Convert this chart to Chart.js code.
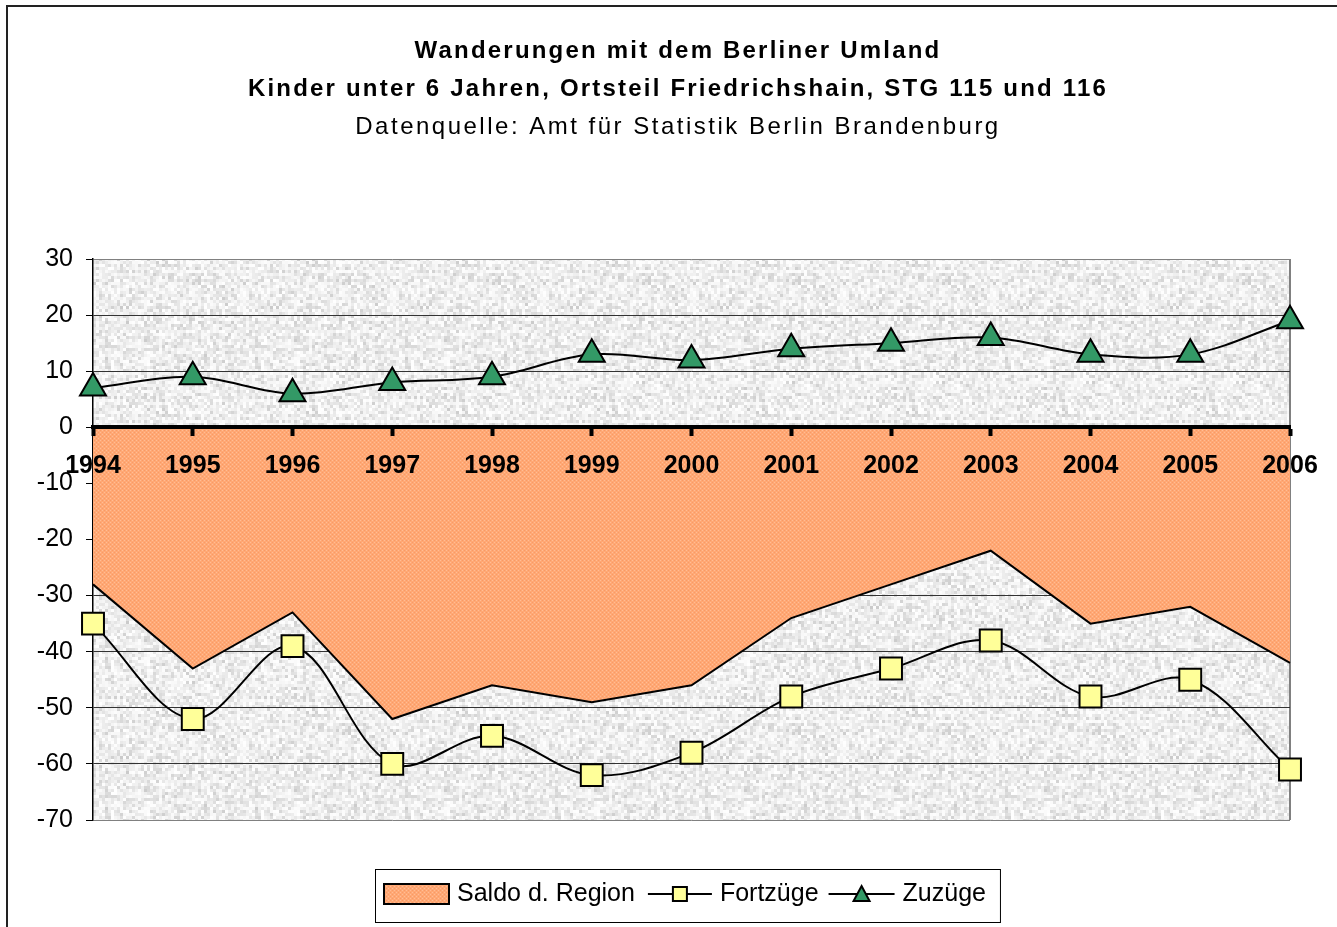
<!DOCTYPE html>
<html>
<head>
<meta charset="utf-8">
<title>Wanderungen mit dem Berliner Umland</title>
<script src="https://cdn.jsdelivr.net/npm/chart.js@4"></script>
<style>
  html, body { margin: 0; padding: 0; background: #fff; overflow: hidden; }
  #frame { position: absolute; left: 6px; top: 5px; width: 1400px; height: 1000px;
           border-left: 2px solid #222; border-top: 2px solid #222; }
  #wrap { position: absolute; left: 0; top: 0; width: 1337px; height: 927px; }
</style>
</head>
<body>
<div id="frame"></div>
<div id="wrap"><canvas id="chart" width="1337" height="927"></canvas></div>
<script>
// data
const years = ['1994', '1995', '1996', '1997', '1998', '1999', '2000', '2001', '2002', '2003', '2004', '2005', '2006'];
const saldo = [-28, -43, -33, -52, -46, -49, -46, -34, -28, -22, -35, -32, -42];
const fortzuege = [-35, -52, -39, -60, -55, -62, -58, -48, -43, -38, -48, -45, -61];
const zuzuege = [7, 9, 6, 8, 9, 13, 12, 14, 15, 16, 13, 13, 19];
const yMin = -70;
const yMax = 30;
const yStep = 10;

const titleLines = ['Wanderungen mit dem Berliner Umland', 'Kinder unter 6 Jahren, Ortsteil Friedrichshain, STG 115 und 116'];
const subtitleLine = 'Datenquelle: Amt für Statistik Berlin Brandenburg';

const FONT = '"Liberation Sans", Arial, sans-serif';

// grey speckled plot background (fixed seed, texture only)
function makeSpeckle() {
  const c = document.createElement('canvas');
  c.width = 150; c.height = 150;
  const g = c.getContext('2d');
  let s = 4711;
  const next = () => { s = (s * 16807) % 2147483647; return s / 2147483647; };
  for (let y = 0; y < 150; y += 3) {
    for (let x = 0; x < 150; x += 3) {
      const v = Math.round(200 + Math.sqrt(next()) * 55);
      g.fillStyle = `rgb(${v},${v},${v})`;
      g.fillRect(x, y, 3, 3);
    }
  }
  return g.createPattern(c, 'repeat');
}

// orange dotted area fill
function makeOrange() {
  const c = document.createElement('canvas');
  c.width = 4; c.height = 4;
  const g = c.getContext('2d');
  g.fillStyle = '#ffa874';
  g.fillRect(0, 0, 4, 4);
  g.fillStyle = '#ffbd96';
  g.fillRect(0, 0, 1, 1);
  g.fillRect(2, 2, 1, 1);
  g.fillStyle = '#f89a66';
  g.fillRect(2, 0, 1, 1);
  g.fillRect(0, 2, 1, 1);
  return g.createPattern(c, 'repeat');
}

const speckle = makeSpeckle();
const orange = makeOrange();

const plotBackground = {
  id: 'plotBackground',
  beforeDraw(chart) {
    const { ctx, chartArea: a } = chart;
    ctx.save();
    ctx.fillStyle = speckle;
    ctx.fillRect(a.left, a.top, a.right - a.left, a.bottom - a.top);
    ctx.strokeStyle = '#808080';
    ctx.lineWidth = 2;
    ctx.beginPath();
    ctx.moveTo(a.right, a.top);
    ctx.lineTo(a.right, a.bottom);
    ctx.stroke();
    ctx.restore();
  }
};

// Excel-like spaced title, three lines
const spacedTitle = {
  id: 'spacedTitle',
  afterDraw(chart) {
    const ctx = chart.ctx;
    const cx = 678;
    ctx.save();
    ctx.fillStyle = '#000';
    ctx.textAlign = 'center';
    ctx.textBaseline = 'middle';
    ctx.letterSpacing = '2.2px';
    ctx.font = 'bold 24px ' + FONT;
    ctx.fillText(titleLines[0], cx, 51);
    ctx.fillText(titleLines[1], cx, 89);
    ctx.letterSpacing = '2.5px';
    ctx.font = '24px ' + FONT;
    ctx.fillText(subtitleLine, cx, 127);
    ctx.restore();
  }
};

// legend in a framed box, Excel style
const boxLegend = {
  id: 'boxLegend',
  afterDraw(chart) {
    const { ctx, chartArea: a } = chart;
    const ds = chart.data.datasets;
    const cy = 894;
    ctx.save();
    ctx.font = '25px ' + FONT;
    ctx.textBaseline = 'middle';
    const w0 = ctx.measureText(ds[0].label).width;
    const w1 = ctx.measureText(ds[1].label).width;
    const w2 = ctx.measureText(ds[2].label).width;
    const total = 9 + 65 + 8 + w0 + 13 + 64 + 8 + w1 + 10 + 66 + 8 + w2 + 14;
    const left = Math.round((a.left + a.right) / 2 - total / 2) - 4;
    ctx.fillStyle = '#fff';
    ctx.strokeStyle = '#000';
    ctx.lineWidth = 1;
    ctx.fillRect(left, 869, total, 53);
    ctx.strokeRect(left + 0.5, 869.5, total, 53);

    let x = left + 9;
    ctx.fillStyle = orange;
    ctx.fillRect(x, cy - 10, 65, 20);
    ctx.lineWidth = 2;
    ctx.strokeRect(x, cy - 10, 65, 20);
    x += 65 + 8;
    ctx.fillStyle = '#000';
    ctx.fillText(ds[0].label, x, cy);
    x += w0 + 13;

    ctx.beginPath();
    ctx.moveTo(x, cy); ctx.lineTo(x + 64, cy);
    ctx.stroke();
    ctx.fillStyle = ds[1].pointBackgroundColor;
    ctx.fillRect(x + 25, cy - 7, 14, 14);
    ctx.strokeRect(x + 25, cy - 7, 14, 14);
    x += 64 + 8;
    ctx.fillStyle = '#000';
    ctx.fillText(ds[1].label, x, cy);
    x += w1 + 10;

    ctx.beginPath();
    ctx.moveTo(x, cy); ctx.lineTo(x + 66, cy);
    ctx.stroke();
    ctx.fillStyle = ds[2].pointBackgroundColor;
    ctx.beginPath();
    ctx.moveTo(x + 33, cy - 8);
    ctx.lineTo(x + 41, cy + 7);
    ctx.lineTo(x + 25, cy + 7);
    ctx.closePath();
    ctx.fill();
    ctx.stroke();
    x += 66 + 8;
    ctx.fillStyle = '#000';
    ctx.fillText(ds[2].label, x, cy);
    ctx.restore();
  }
};

new Chart(document.getElementById('chart'), {
  type: 'line',
  data: {
    labels: years,
    datasets: [
      {
        label: 'Saldo d. Region',
        data: saldo,
        order: 2,
        fill: 'origin',
        backgroundColor: orange,
        borderColor: '#000',
        borderWidth: 2,
        tension: 0,
        pointRadius: 0
      },
      {
        label: 'Fortzüge',
        data: fortzuege,
        order: 1,
        fill: false,
        borderColor: '#000',
        borderWidth: 2,
        tension: 0.35,
        pointStyle: 'rect',
        pointRadius: 15.5,
        pointBackgroundColor: '#ffff99',
        pointBorderColor: '#000',
        pointBorderWidth: 2,
        clip: false
      },
      {
        label: 'Zuzüge',
        data: zuzuege,
        order: 0,
        fill: false,
        borderColor: '#000',
        borderWidth: 2,
        tension: 0.35,
        pointStyle: 'triangle',
        pointRadius: 15,
        pointBackgroundColor: '#339966',
        pointBorderColor: '#000',
        pointBorderWidth: 2,
        clip: false
      }
    ]
  },
  options: {
    responsive: false,
    animation: false,
    events: [],
    layout: { padding: { left: 0, right: 47, top: 259, bottom: 107 } },
    plugins: {
      legend: { display: false },
      tooltip: { enabled: false },
      title: { display: false }
    },
    scales: {
      x: {
        position: { y: 0 },
        offset: false,
        ticks: { z: 1, color: '#000', font: { family: FONT, size: 25, weight: 'bold' }, padding: 17, maxRotation: 0, autoSkip: false },
        grid: { z: 1, drawOnChartArea: false, tickLength: 7, tickWidth: 4, tickColor: '#000' },
        border: { z: 1, color: '#000', width: 4 }
      },
      y: {
        min: yMin,
        max: yMax,
        ticks: { stepSize: yStep, color: '#000', font: { family: FONT, size: 25 }, padding: 13 },
        grid: {
          color: (c) => (c.tick && (c.tick.value === yMax || c.tick.value === yMin)) ? '#808080' : '#333',
          lineWidth: 1,
          tickLength: 7,
          tickColor: '#000'
        },
        border: { color: '#000', width: 1.5 },
        afterFit: (s) => { s.width = 93; }
      }
    }
  },
  plugins: [plotBackground, spacedTitle, boxLegend]
});
</script>
</body>
</html>
